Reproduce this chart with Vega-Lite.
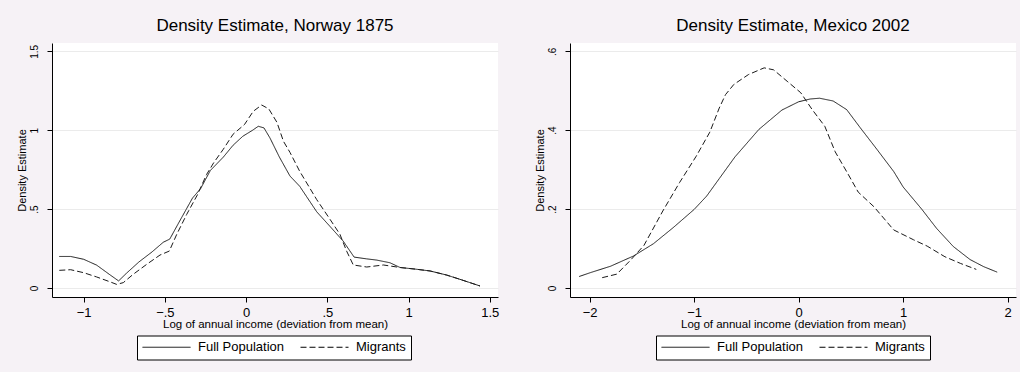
{
  "$schema": "https://vega.github.io/schema/vega-lite/v6.json",
  "background": "#f6f2f6",
  "padding": {"left": 16, "top": 17, "right": 4, "bottom": 13},
  "spacing": 35,
  "config": {
    "font": "Liberation Sans",
    "view": {"fill": "white", "stroke": null},
    "axis": {"domainColor": "black", "tickColor": "black", "labelColor": "black", "titleColor": "black", "titleFontWeight": "normal", "tickSize": 5, "labelFlush": false, "labelOverlap": false},
    "axisX": {"grid": false, "labelFontSize": 13, "labelPadding": 4, "titleFontSize": 11.5, "titleY": 21, "titleBaseline": "top"},
    "axisY": {"grid": true, "gridColor": "#ebebeb", "gridWidth": 1, "labelFontSize": 10, "labelAngle": -90, "labelAlign": "center", "labelBaseline": "bottom", "labelPadding": 8, "titleFontSize": 11, "titleAngle": -90, "titleBaseline": "bottom", "titleAlign": "center", "titleX": -25},
    "legend": {"orient": "none", "direction": "horizontal", "strokeColor": "black", "fillColor": "white", "padding": 5, "symbolType": "M-1,0H7", "symbolSize": 144, "symbolStrokeWidth": 1, "symbolStrokeColor": "black", "symbolFillColor": "transparent", "labelFontSize": 13, "labelColor": "black", "labelOffset": 43, "columnPadding": 14, "cornerRadius": 0},
    "title": {"fontSize": 17, "fontWeight": "normal", "color": "black", "anchor": "middle", "frame": "group", "offset": 8}
  },
  "resolve": {"scale": {"x": "independent", "y": "independent", "strokeDash": "independent"}, "legend": {"strokeDash": "independent"}},
  "datasets": {
    "norway": [
      {"x": -1.15, "y": 0.2, "group": "Full Population"},
      {"x": -1.08, "y": 0.2, "group": "Full Population"},
      {"x": -1.0, "y": 0.182, "group": "Full Population"},
      {"x": -0.92, "y": 0.145, "group": "Full Population"},
      {"x": -0.84, "y": 0.085, "group": "Full Population"},
      {"x": -0.785, "y": 0.045, "group": "Full Population"},
      {"x": -0.735, "y": 0.095, "group": "Full Population"},
      {"x": -0.66, "y": 0.165, "group": "Full Population"},
      {"x": -0.58, "y": 0.228, "group": "Full Population"},
      {"x": -0.51, "y": 0.29, "group": "Full Population"},
      {"x": -0.47, "y": 0.31, "group": "Full Population"},
      {"x": -0.415, "y": 0.413, "group": "Full Population"},
      {"x": -0.33, "y": 0.57, "group": "Full Population"},
      {"x": -0.28, "y": 0.63, "group": "Full Population"},
      {"x": -0.22, "y": 0.745, "group": "Full Population"},
      {"x": -0.14, "y": 0.83, "group": "Full Population"},
      {"x": -0.08, "y": 0.905, "group": "Full Population"},
      {"x": -0.02, "y": 0.962, "group": "Full Population"},
      {"x": 0.04, "y": 1.0, "group": "Full Population"},
      {"x": 0.075, "y": 1.025, "group": "Full Population"},
      {"x": 0.11, "y": 1.015, "group": "Full Population"},
      {"x": 0.147, "y": 0.951, "group": "Full Population"},
      {"x": 0.205, "y": 0.83, "group": "Full Population"},
      {"x": 0.27, "y": 0.71, "group": "Full Population"},
      {"x": 0.33, "y": 0.645, "group": "Full Population"},
      {"x": 0.435, "y": 0.483, "group": "Full Population"},
      {"x": 0.517, "y": 0.39, "group": "Full Population"},
      {"x": 0.598, "y": 0.297, "group": "Full Population"},
      {"x": 0.665, "y": 0.196, "group": "Full Population"},
      {"x": 0.74, "y": 0.185, "group": "Full Population"},
      {"x": 0.804, "y": 0.177, "group": "Full Population"},
      {"x": 0.886, "y": 0.16, "group": "Full Population"},
      {"x": 0.948, "y": 0.13, "group": "Full Population"},
      {"x": 1.04, "y": 0.12, "group": "Full Population"},
      {"x": 1.133, "y": 0.108, "group": "Full Population"},
      {"x": 1.235, "y": 0.082, "group": "Full Population"},
      {"x": 1.317, "y": 0.055, "group": "Full Population"},
      {"x": 1.44, "y": 0.013, "group": "Full Population"},
      {"x": -1.15, "y": 0.112, "group": "Migrants"},
      {"x": -1.08, "y": 0.116, "group": "Migrants"},
      {"x": -1.0, "y": 0.097, "group": "Migrants"},
      {"x": -0.92, "y": 0.07, "group": "Migrants"},
      {"x": -0.84, "y": 0.04, "group": "Migrants"},
      {"x": -0.797, "y": 0.023, "group": "Migrants"},
      {"x": -0.756, "y": 0.034, "group": "Migrants"},
      {"x": -0.695, "y": 0.087, "group": "Migrants"},
      {"x": -0.612, "y": 0.15, "group": "Migrants"},
      {"x": -0.53, "y": 0.209, "group": "Migrants"},
      {"x": -0.473, "y": 0.234, "group": "Migrants"},
      {"x": -0.427, "y": 0.34, "group": "Migrants"},
      {"x": -0.366, "y": 0.466, "group": "Migrants"},
      {"x": -0.3, "y": 0.59, "group": "Migrants"},
      {"x": -0.243, "y": 0.72, "group": "Migrants"},
      {"x": -0.2, "y": 0.793, "group": "Migrants"},
      {"x": -0.14, "y": 0.88, "group": "Migrants"},
      {"x": -0.08, "y": 0.975, "group": "Migrants"},
      {"x": -0.01, "y": 1.036, "group": "Migrants"},
      {"x": 0.044, "y": 1.12, "group": "Migrants"},
      {"x": 0.096, "y": 1.16, "group": "Migrants"},
      {"x": 0.14, "y": 1.135, "group": "Migrants"},
      {"x": 0.19, "y": 1.05, "group": "Migrants"},
      {"x": 0.23, "y": 0.93, "group": "Migrants"},
      {"x": 0.27, "y": 0.86, "group": "Migrants"},
      {"x": 0.33, "y": 0.74, "group": "Migrants"},
      {"x": 0.435, "y": 0.56, "group": "Migrants"},
      {"x": 0.517, "y": 0.435, "group": "Migrants"},
      {"x": 0.578, "y": 0.34, "group": "Migrants"},
      {"x": 0.619, "y": 0.234, "group": "Migrants"},
      {"x": 0.66, "y": 0.146, "group": "Migrants"},
      {"x": 0.743, "y": 0.133, "group": "Migrants"},
      {"x": 0.845, "y": 0.146, "group": "Migrants"},
      {"x": 0.948, "y": 0.13, "group": "Migrants"},
      {"x": 1.04, "y": 0.12, "group": "Migrants"},
      {"x": 1.133, "y": 0.108, "group": "Migrants"},
      {"x": 1.235, "y": 0.082, "group": "Migrants"},
      {"x": 1.317, "y": 0.055, "group": "Migrants"},
      {"x": 1.44, "y": 0.013, "group": "Migrants"}
    ],
    "mexico": [
      {"x": -2.1, "y": 0.029, "group": "Full Population"},
      {"x": -1.99, "y": 0.039, "group": "Full Population"},
      {"x": -1.8, "y": 0.055, "group": "Full Population"},
      {"x": -1.58, "y": 0.081, "group": "Full Population"},
      {"x": -1.39, "y": 0.112, "group": "Full Population"},
      {"x": -1.2, "y": 0.153, "group": "Full Population"},
      {"x": -1.0, "y": 0.199, "group": "Full Population"},
      {"x": -0.88, "y": 0.233, "group": "Full Population"},
      {"x": -0.76, "y": 0.277, "group": "Full Population"},
      {"x": -0.61, "y": 0.332, "group": "Full Population"},
      {"x": -0.38, "y": 0.402, "group": "Full Population"},
      {"x": -0.16, "y": 0.451, "group": "Full Population"},
      {"x": 0.0, "y": 0.472, "group": "Full Population"},
      {"x": 0.11, "y": 0.479, "group": "Full Population"},
      {"x": 0.2, "y": 0.481, "group": "Full Population"},
      {"x": 0.33, "y": 0.474, "group": "Full Population"},
      {"x": 0.46, "y": 0.452, "group": "Full Population"},
      {"x": 0.59, "y": 0.406, "group": "Full Population"},
      {"x": 0.75, "y": 0.351, "group": "Full Population"},
      {"x": 0.91, "y": 0.295, "group": "Full Population"},
      {"x": 1.0, "y": 0.256, "group": "Full Population"},
      {"x": 1.18, "y": 0.199, "group": "Full Population"},
      {"x": 1.32, "y": 0.151, "group": "Full Population"},
      {"x": 1.48, "y": 0.105, "group": "Full Population"},
      {"x": 1.64, "y": 0.072, "group": "Full Population"},
      {"x": 1.77, "y": 0.054, "group": "Full Population"},
      {"x": 1.9, "y": 0.04, "group": "Full Population"},
      {"x": -1.88, "y": 0.026, "group": "Migrants"},
      {"x": -1.74, "y": 0.035, "group": "Migrants"},
      {"x": -1.61, "y": 0.07, "group": "Migrants"},
      {"x": -1.48, "y": 0.108, "group": "Migrants"},
      {"x": -1.3, "y": 0.195, "group": "Migrants"},
      {"x": -1.14, "y": 0.267, "group": "Migrants"},
      {"x": -0.98, "y": 0.334, "group": "Migrants"},
      {"x": -0.85, "y": 0.395, "group": "Migrants"},
      {"x": -0.76, "y": 0.456, "group": "Migrants"},
      {"x": -0.7, "y": 0.49, "group": "Migrants"},
      {"x": -0.62, "y": 0.516, "group": "Migrants"},
      {"x": -0.48, "y": 0.541, "group": "Migrants"},
      {"x": -0.33, "y": 0.558, "group": "Migrants"},
      {"x": -0.24, "y": 0.553, "group": "Migrants"},
      {"x": -0.11, "y": 0.524, "group": "Migrants"},
      {"x": 0.02, "y": 0.495, "group": "Migrants"},
      {"x": 0.13, "y": 0.452, "group": "Migrants"},
      {"x": 0.25, "y": 0.41, "group": "Migrants"},
      {"x": 0.35, "y": 0.345, "group": "Migrants"},
      {"x": 0.47, "y": 0.29, "group": "Migrants"},
      {"x": 0.57, "y": 0.243, "group": "Migrants"},
      {"x": 0.72, "y": 0.206, "group": "Migrants"},
      {"x": 0.91, "y": 0.147, "group": "Migrants"},
      {"x": 1.1, "y": 0.122, "group": "Migrants"},
      {"x": 1.23, "y": 0.106, "group": "Migrants"},
      {"x": 1.4, "y": 0.079, "group": "Migrants"},
      {"x": 1.55, "y": 0.062, "group": "Migrants"},
      {"x": 1.7, "y": 0.047, "group": "Migrants"}
    ]
  },
  "hconcat": [
    {
      "width": 446,
      "height": 254,
      "title": {"text": "Density Estimate, Norway 1875"},
      "data": {"name": "norway"},
      "mark": {"type": "line", "color": "#1a1a1a", "strokeWidth": 1},
      "encoding": {
        "x": {"field": "x", "type": "quantitative", "scale": {"domain": [-1.195, 1.551], "nice": false, "zero": false}, "axis": {"values": [-1, -0.5, 0, 0.5, 1, 1.5], "labelExpr": "replace(format(datum.value, '~g'), '0.', '.')", "title": "Log of annual income (deviation from mean)"}},
        "y": {"field": "y", "type": "quantitative", "scale": {"domain": [-0.057, 1.553], "nice": false, "zero": false}, "axis": {"values": [0, 0.5, 1, 1.5], "labelExpr": "replace(format(datum.value, '~g'), '0.', '.')", "title": "Density Estimate"}},
        "strokeDash": {"field": "group", "type": "nominal", "scale": {"domain": ["Full Population", "Migrants"], "range": [[1, 0], [6, 3]]}, "legend": {"title": null, "orient": "none", "legendX": 85, "legendY": 292.5}}
      }
    },
    {
      "width": 446,
      "height": 254,
      "title": {"text": "Density Estimate, Mexico 2002"},
      "data": {"name": "mexico"},
      "mark": {"type": "line", "color": "#1a1a1a", "strokeWidth": 1},
      "encoding": {
        "x": {"field": "x", "type": "quantitative", "scale": {"domain": [-2.188, 2.08], "nice": false, "zero": false}, "axis": {"values": [-2, -1, 0, 1, 2], "labelExpr": "replace(format(datum.value, '~g'), '0.', '.')", "title": "Log of annual income (deviation from mean)"}},
        "y": {"field": "y", "type": "quantitative", "scale": {"domain": [-0.023, 0.621], "nice": false, "zero": false}, "axis": {"values": [0, 0.2, 0.4, 0.6], "labelExpr": "replace(format(datum.value, '~g'), '0.', '.')", "title": "Density Estimate"}},
        "strokeDash": {"field": "group", "type": "nominal", "scale": {"domain": ["Full Population", "Migrants"], "range": [[1, 0], [6, 3]]}, "legend": {"title": null, "orient": "none", "legendX": 86, "legendY": 292.5}}
      }
    }
  ]
}
